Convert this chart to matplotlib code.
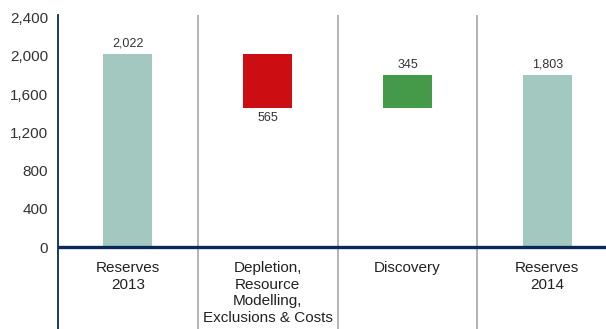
import matplotlib.pyplot as plt

plt.rcParams['font.family'] = ['Liberation Sans', 'DejaVu Sans']

# data
categories = ['Reserves\n2013', 'Depletion,\nResource\nModelling,\nExclusions & Costs',
              'Discovery', 'Reserves\n2014']
values = [2022, -565, 345, 1803]
value_labels = ['2,022', '565', '345', '1,803']
yticks = [0, 400, 800, 1200, 1600, 2000, 2400]

teal = '#a2c8c0'
red = '#cc0e12'
green = '#449a48'
navy = '#0b2a5b'

# waterfall bottoms/heights
bottoms = []
heights = []
colors = []
running = 0
for i, v in enumerate(values):
    if i == 0 or i == len(values) - 1:
        bottoms.append(0)
        heights.append(v)
        colors.append(teal)
        running = v
    else:
        if v < 0:
            bottoms.append(running + v)
            heights.append(-v)
            colors.append(red)
        else:
            bottoms.append(running)
            heights.append(v)
            colors.append(green)
        running += v

fig = plt.figure(figsize=(6.06, 3.29), dpi=100)
ax = fig.add_axes([0.0957, 0.0, 0.9043, 0.954])

x = range(len(categories))
ax.bar(x, heights, bottom=bottoms, width=0.35, color=colors, zorder=2)

for i in x:
    top = bottoms[i] + heights[i]
    if values[i] < 0:
        ax.text(i, bottoms[i] - 40, value_labels[i], ha='center', va='top',
                fontsize=9, color='#333333')
    else:
        ax.text(i, top + 45, value_labels[i], ha='center', va='bottom',
                fontsize=9, color='#333333')
    ax.text(i, -150, categories[i], ha='center', va='top', fontsize=11,
            color='#222222', linespacing=1.22)

for sep in [0.5, 1.5, 2.5]:
    ax.axvline(sep, color='#a8a8a8', linewidth=1.2, zorder=1)

ax.axhline(0, color=navy, linewidth=2.4, zorder=3)

ax.set_xlim(-0.5, 3.42)
ax.set_ylim(-858, 2427)
ax.set_yticks(yticks)
ax.set_yticklabels([f'{t:,}' for t in yticks], fontsize=11, color='#333333')
ax.tick_params(axis='y', length=0, pad=7)
ax.set_xticks([])

for s in ['top', 'right', 'bottom']:
    ax.spines[s].set_visible(False)
ax.spines['left'].set_color(navy)
ax.spines['left'].set_linewidth(1.3)

fig.savefig('out.png', dpi=100)
